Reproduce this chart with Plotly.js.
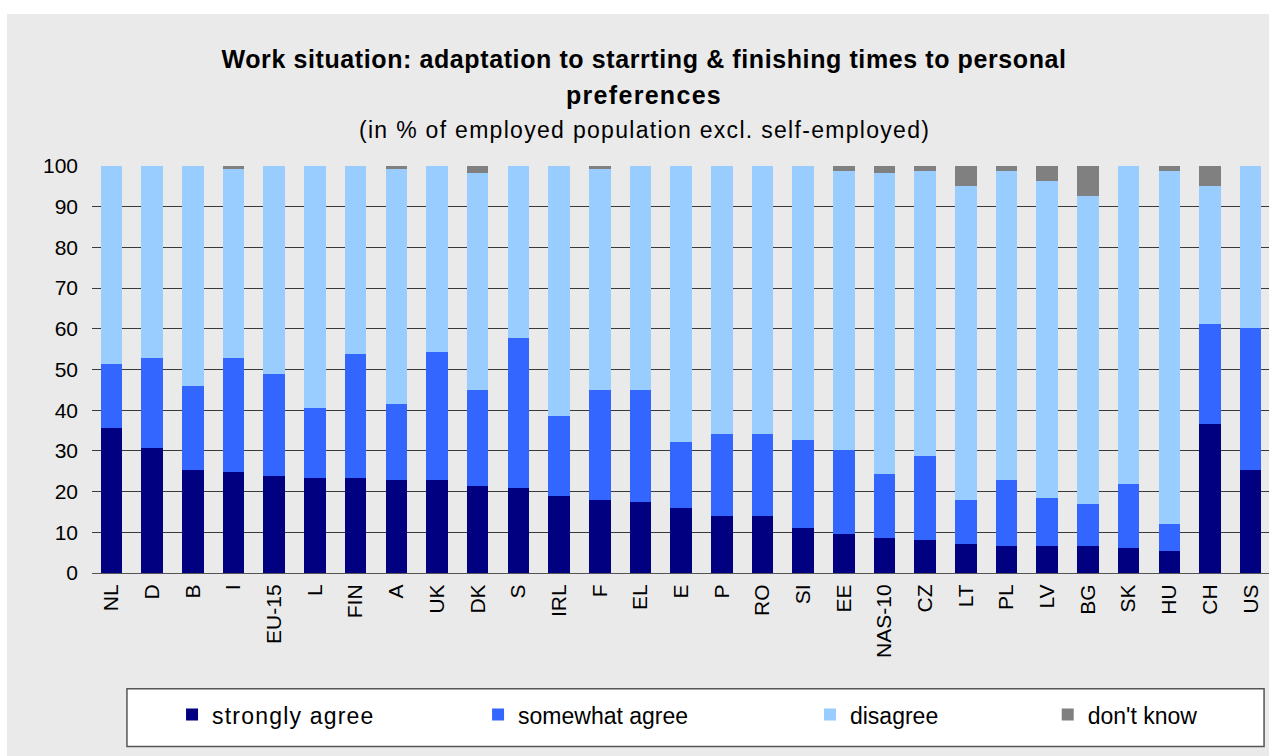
<!DOCTYPE html>
<html>
<head>
<meta charset="utf-8">
<script src="https://cdn.plot.ly/plotly-3.0.1.min.js"></script>
<style>
  html, body { margin: 0; padding: 0; background: #ffffff; width: 1269px; height: 756px; overflow: hidden; }
  #chart { position: absolute; left: 7px; top: 14px; width: 1262px; height: 742px; }
  .legendtext { letter-spacing: 1.2px; }
  .gtitle { letter-spacing: 0.6px; }
  .annotation-text { letter-spacing: 1.3px; }
</style>
</head>
<body>
<div id="chart"></div>
<script>
const categories = ["NL","D","B","I","EU-15","L","FIN","A","UK","DK","S","IRL","F","EL","E","P","RO","SI","EE","NAS-10","CZ","LT","PL","LV","BG","SK","HU","CH","US"];
const stronglyAgree = [35.7,30.8,25.4,24.9,23.9,23.4,23.4,22.9,22.9,21.4,20.9,19.0,18.0,17.5,16.0,14.1,14.1,11.1,9.7,8.7,8.2,7.2,6.7,6.7,6.7,6.2,5.5,36.7,25.4];
const somewhatAgree = [15.7,22.1,20.6,28.0,25.0,17.2,30.4,18.7,31.4,23.6,36.9,19.6,27.0,27.5,16.2,20.1,20.1,21.6,20.6,15.7,20.6,10.8,16.2,11.8,10.3,15.7,6.6,24.5,34.8];
const disagree = [48.6,47.1,54.0,46.4,51.1,59.4,46.2,57.7,45.7,53.3,42.2,61.4,54.3,55.0,67.8,65.8,65.8,67.3,68.5,73.9,70.0,77.1,75.9,77.8,75.6,78.1,86.7,33.9,39.8];
const dontKnow = [0,0,0,0.7,0,0,0,0.7,0,1.7,0,0,0.7,0,0,0,0,0,1.2,1.7,1.2,4.9,1.2,3.7,7.4,0,1.2,4.9,0];
const seriesNames = ["strongly agree","somewhat agree","disagree","don't know"];
const seriesColors = ["#000080","#3366FF","#99CCFF","#808080"];
const yTicks = [0,10,20,30,40,50,60,70,80,90,100];
const titleLine1 = "Work situation: adaptation to starrting & finishing times to personal";
const titleLine2 = "preferences";
const subtitle = "(in % of employed population excl. self-employed)";

const FONT = "Liberation Sans, Arial, sans-serif";
const seriesValues = [stronglyAgree, somewhatAgree, disagree, dontKnow];
const legendIds = ["legend","legend2","legend3","legend4"];
const legendX = [0.068, 0.328, 0.610, 0.812];

const traces = seriesValues.map((vals, i) => ({
  type: "bar",
  name: seriesNames[i],
  x: categories,
  y: vals,
  marker: { color: seriesColors[i], line: { width: 0 } },
  legend: legendIds[i],
  hoverinfo: "x+y+name"
}));

const layout = {
  width: 1262,
  height: 742,
  paper_bgcolor: "#EAEAEA",
  plot_bgcolor: "#EAEAEA",
  margin: { l: 85, r: 0, t: 152, b: 183, pad: 0 },
  barmode: "stack",
  bargap: 0.47,
  font: { family: FONT, color: "#000000", size: 21 },
  title: {
    text: "<b>" + titleLine1 + "</b>",
    font: { family: FONT, size: 25, color: "#000000" },
    x: 0.5048, xref: "container", xanchor: "center",
    y: 0.9394, yref: "container", yanchor: "middle"
  },
  annotations: [{
    text: "<b>" + titleLine2 + "</b>",
    xref: "paper", yref: "paper", x: 0.469, y: 1.1744,
    xanchor: "center", yanchor: "middle", showarrow: false,
    font: { family: FONT, size: 25, color: "#000000" }
  }, {
    text: subtitle,
    xref: "paper", yref: "paper", x: 0.469, y: 1.088,
    xanchor: "center", yanchor: "middle", showarrow: false,
    font: { family: FONT, size: 23, color: "#000000" }
  }],
  xaxis: {
    type: "category",
    range: [-0.48, 28.45],
    tickangle: -90,
    tickfont: { family: FONT, size: 21, color: "#000000" },
    showgrid: false,
    showline: true, linecolor: "#555555", linewidth: 1,
    ticks: "", ticklabelstandoff: 2,
    zeroline: false, fixedrange: true
  },
  yaxis: {
    range: [0, 100],
    tickvals: yTicks,
    ticktext: yTicks.map(String),
    tickfont: { family: FONT, size: 21, color: "#000000" },
    showgrid: true, gridcolor: "#3a3a3a", gridwidth: 1,
    showline: false, zeroline: false,
    ticks: "", ticklabelstandoff: 13, fixedrange: true
  },
  shapes: [{
    type: "rect", xref: "paper", yref: "paper",
    x0: 0.0297, x1: 0.9958, y0: -0.4265, y1: -0.2841,
    fillcolor: "#FFFFFF", line: { color: "#555555", width: 1.5 },
    layer: "below"
  }],
  showlegend: true
};
legendIds.forEach((id, i) => {
  layout[id] = {
    x: legendX[i], y: -0.348, xanchor: "left", yanchor: "middle",
    xref: "paper", yref: "paper",
    orientation: "v",
    bgcolor: "rgba(0,0,0,0)", borderwidth: 0,
    font: { family: FONT, size: 23, color: "#000000" },
    itemclick: false, itemdoubleclick: false
  };
});

Plotly.newPlot("chart", traces, layout, { displayModeBar: false, responsive: false });
</script>
</body>
</html>
